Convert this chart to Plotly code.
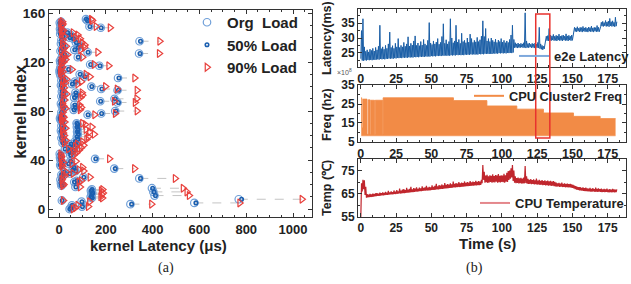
import plotly.graph_objects as go

# ---------------- (a) kernel latency data ----------------
kernel_idx = list(range(156))
org_load = [45, 50, 98, 55, 305, 578, 96, 12, 768, 140,
            135, 408, 138, 142, 403, 136, 140, 397, 70, 10,
            12, 8, 65, 75, 6, 343, 104, 15, 10, 45,
            20, 70, 58, 236, 62, 8, 5, 40, 12, 48,
            6, 154, 4, 6, 48, 3, 55, 42, 60, 25,
            65, 45, 72, 50, 15, 68, 20, 78, 10, 76,
            14, 80, 12, 77, 8, 79, 18, 76, 10, 78,
            75, 14, 9, 6, 4, 12, 8, 122, 180, 10,
            240, 62, 18, 68, 12, 66, 8, 250, 176, 15,
            237, 64, 10, 72, 20, 70, 12, 250, 180, 14,
            138, 8, 55, 16, 68, 10, 20, 252, 108, 6,
            88, 3, 10, 2, 40, 5, 8, 172, 133, 6,
            12, 4, 18, 10, 80, 14, 24, 342, 122, 6,
            65, 12, 80, 20, 85, 8, 72, 344, 10, 60,
            45, 16, 50, 5, 35, 8, 12, 4, 178, 130,
            6, 10, 3, 8, 120, 115]
load50 = [47, 52, 100, 57, 310, 585, 98, 13, 780, 142,
          137, 412, 140, 144, 406, 138, 141, 400, 72, 11,
          13, 9, 66, 77, 7, 348, 106, 16, 11, 46,
          22, 72, 60, 240, 64, 9, 6, 41, 13, 50,
          7, 157, 5, 7, 50, 4, 56, 44, 62, 26,
          67, 47, 74, 52, 16, 70, 21, 80, 11, 78,
          15, 82, 13, 79, 9, 81, 19, 78, 11, 80,
          77, 15, 10, 7, 5, 13, 9, 124, 182, 11,
          243, 64, 19, 70, 13, 68, 9, 254, 178, 16,
          240, 66, 11, 74, 21, 72, 13, 254, 183, 15,
          140, 9, 57, 17, 70, 11, 21, 256, 110, 7,
          90, 4, 11, 3, 41, 6, 9, 175, 135, 7,
          13, 5, 19, 11, 82, 15, 25, 346, 124, 7,
          67, 13, 82, 21, 87, 9, 74, 348, 11, 62,
          46, 17, 52, 6, 36, 9, 13, 5, 180, 132,
          7, 11, 4, 9, 122, 117]
load90 = [60, 70, 125, 80, 395, 772, 130, 18, 1038, 185,
          178, 556, 182, 188, 546, 180, 186, 530, 90, 16,
          20, 14, 85, 95, 12, 496, 132, 25, 18, 60,
          32, 105, 85, 322, 100, 14, 10, 55, 18, 72,
          10, 215, 8, 10, 62, 7, 75, 60, 85, 40,
          95, 70, 105, 78, 22, 100, 30, 118, 16, 125,
          22, 150, 18, 130, 14, 115, 28, 140, 15, 112,
          100, 24, 14, 12, 9, 20, 15, 152, 240, 16,
          333, 90, 28, 95, 20, 88, 14, 325, 236, 24,
          332, 92, 17, 100, 32, 98, 20, 333, 248, 22,
          198, 14, 80, 26, 95, 18, 32, 323, 132, 12,
          115, 7, 16, 5, 55, 9, 14, 212, 150, 11,
          20, 8, 28, 15, 100, 22, 36, 428, 165, 10,
          92, 20, 108, 30, 110, 14, 98, 430, 16, 90,
          70, 24, 80, 10, 60, 14, 18, 8, 218, 158,
          12, 16, 7, 14, 142, 138]

# ---------------- (b) time series data (1 s resolution: band low / high) ----------------
lat_lo = [23.0, 22.4, 22.3, 22.5, 22.4, 22.6, 22.5, 22.6, 22.5, 22.7,
          22.6, 22.7, 22.8, 22.7, 22.9, 22.8, 22.9, 22.8, 23.0, 22.9,
          23.1, 23.0, 23.1, 23.0, 23.2, 23.1, 23.3, 23.2, 23.3, 23.2,
          23.4, 23.3, 23.4, 23.3, 23.5, 23.4, 23.5, 23.4, 23.6, 23.5,
          23.6, 23.5, 23.7, 23.6, 23.7, 23.6, 23.8, 23.7, 23.8, 23.7,
          23.9, 23.8, 23.9, 23.8, 24.0, 23.9, 24.0, 23.9, 24.1, 24.0,
          24.1, 24.0, 24.1, 24.0, 24.2, 24.1, 24.2, 24.1, 24.3, 24.2,
          24.3, 24.2, 24.3, 24.2, 24.4, 24.3, 24.4, 24.3, 24.5, 24.4,
          24.5, 24.4, 24.5, 24.4, 24.6, 24.5, 24.6, 24.5, 24.7, 24.6,
          24.7, 24.6, 24.7, 24.6, 24.8, 24.7, 24.8, 24.7, 24.9, 24.8,
          24.9, 24.8, 24.9, 24.8, 25.0, 24.9, 25.0, 24.9, 25.1, 26.7,
          26.8, 26.6, 26.8, 26.7, 26.9, 26.7, 26.8, 26.6, 26.8, 26.7,
          26.9, 26.7, 26.8, 26.6, 26.8, 26.7, 26.6, 26.4, 26.2, 26.0,
          26.3, 28.9, 29.1, 29.0, 29.2, 29.1, 29.3, 29.1, 29.2, 29.0,
          29.3, 29.1, 29.2, 29.0, 29.3, 29.1, 29.2, 29.0, 29.3, 29.1,
          29.2, 32.0, 32.2, 32.1, 32.3, 32.1, 32.2, 32.0, 32.3, 32.1,
          32.2, 32.0, 32.3, 32.1, 32.2, 32.0, 32.3, 32.1, 32.2, 32.1,
          33.8, 34.0, 33.9, 34.1, 33.9, 34.0, 33.8, 34.1, 33.9, 34.0,
          33.8, 34.0]
lat_hi = [32.5, 36.5, 27, 25.5, 26, 25.3, 26.2, 25.8, 26.5, 25.6,
          26.8, 26, 27.2, 34.3, 26.4, 27, 26.2, 27.5, 26.5, 28,
          32, 26.8, 27.4, 26.5, 28.2, 27, 29.8, 26.8, 27.5, 27,
          28.5, 27.2, 28, 30.4, 27.3, 28.2, 27.6, 29, 30.7, 27.5,
          28.3, 27.4, 28.8, 27.6, 29.5, 28, 27.5, 29.2, 35.2, 28.3,
          27.8, 29, 28, 28.6, 29.8, 27.9, 28.5, 30.5, 34.8, 28.2,
          29.4, 28, 28.8, 36.5, 30, 28.4, 29, 34.3, 28.6, 29.5,
          28.2, 31.6, 28.8, 29.2, 28.4, 30, 28.6, 31.3, 29.8, 28.5,
          29.2, 28.7, 30.2, 28.8, 29.4, 30.6, 35.8, 30.5, 33.2, 29,
          29.8, 28.8, 30, 29.2, 28.7, 29.6, 28.5, 29.3, 28.8, 29.8,
          28.6, 29.2, 28.4, 29, 28.5, 29.5, 31, 34.3, 29.5, 28.4,
          28, 28.3, 27.9, 28.2, 28, 28.4, 38.5, 29, 28.1, 28.3,
          27.9, 28.2, 28, 28.3, 27.9, 28.5, 33.6, 28, 27.5, 27.2,
          27.4, 30.6, 30.8, 33.2, 31, 30.7, 31.2, 30.6, 30.9, 30.7,
          31.3, 30.6, 30.8, 31, 30.6, 31.4, 30.7, 30.9, 30.6, 31,
          30.8, 33.6, 33.4, 33.8, 33.3, 33.6, 33.5, 33.9, 33.4, 33.6,
          33.3, 33.7, 33.5, 34, 33.4, 33.6, 33.5, 34.2, 33.6, 33.8,
          35.3, 35.6, 35.2, 35.9, 35.4, 35.7, 36.6, 35.5, 35.8, 35.3,
          37, 35.5]

temp_lo = [55, 66, 67, 64.5, 63.3, 63.4, 63.5, 63.6, 63.7, 63.8,
           63.9, 64.0, 64.1, 64.1, 64.2, 64.3, 64.3, 64.4, 64.5, 64.5,
           64.6, 64.7, 64.7, 64.8, 64.9, 64.9, 65.0, 65.1, 65.1, 65.2,
           65.3, 65.3, 65.4, 65.5, 65.5, 65.6, 65.7, 65.7, 65.8, 65.9,
           65.9, 66.0, 66.1, 66.1, 66.2, 66.3, 66.3, 66.4, 66.5, 66.5,
           66.6, 66.7, 66.7, 66.8, 66.9, 66.9, 67.0, 67.1, 67.1, 67.2,
           67.3, 67.3, 67.4, 67.5, 67.5, 67.6, 67.7, 67.7, 67.8, 67.9,
           67.9, 68.0, 68.1, 68.1, 68.2, 68.3, 68.3, 68.4, 68.4, 68.5,
           68.5, 68.6, 68.6, 68.7, 68.7, 68.8, 69.5, 71.0, 69.8, 70.0,
           69.7, 69.9, 70.1, 69.8, 70.0, 69.9, 70.2, 69.8, 70.0, 69.9,
           70.1, 70.0, 69.8, 70.2, 70.1, 71.0, 71.5, 72.0, 70.5, 69.8,
           69.6, 69.7, 69.5, 69.6, 69.4, 69.5, 69.5, 69.6, 69.3, 69.2,
           69.3, 69.1, 69.2, 69.0, 69.1, 68.9, 69.0, 68.8, 68.9, 68.7,
           68.8, 68.6, 68.7, 68.5, 68.6, 68.4, 68.5, 68.3, 68.2, 68.1,
           68.2, 68.0, 68.1, 67.9, 68.0, 67.8, 67.9, 67.7, 67.8, 67.6,
           67.5, 67.3, 67.0, 66.8, 66.7, 66.5, 66.4, 66.3, 66.2, 66.1,
           66.1, 66.0, 66.0, 65.9, 65.9, 66.0, 65.8, 65.9, 65.8, 65.9,
           65.8, 65.7, 65.8, 65.7, 65.8, 65.7, 65.6, 65.7, 65.6, 65.7,
           65.6, 65.7]
temp_hi = [69.5, 71, 70.8, 68, 64.8, 64.6, 64.9, 64.7, 65.0, 64.9,
           65.2, 65.3, 65.0, 65.5, 65.2, 65.6, 65.3, 65.8, 65.4, 66.2,
           65.6, 66.0, 65.7, 66.4, 65.9, 66.6, 66.0, 67.2, 66.3, 66.8,
           67.0, 66.6, 67.5, 66.8, 67.1, 68.0, 66.9, 67.4, 67.2, 67.8,
           67.1, 67.6, 67.3, 68.2, 67.5, 67.8, 68.4, 67.6, 68.0, 67.7,
           68.6, 68.0, 68.4, 69.3, 68.2, 68.7, 68.5, 69.0, 68.6, 69.6,
           68.8, 69.2, 68.9, 69.5, 69.1, 70.2, 69.3, 69.6, 69.4, 70.0,
           69.5, 69.8, 69.6, 70.3, 69.7, 70.0, 69.8, 70.5, 69.9, 70.2,
           70.0, 70.6, 70.1, 70.4, 70.2, 71.0, 77.4, 74.5, 72.8, 73.2,
           72.5, 73.0, 72.7, 73.4, 72.6, 73.1, 72.9, 73.5, 72.7, 73.0,
           72.8, 73.6, 73.0, 74.0, 74.8, 75.0, 76.0, 77.4, 75.0, 72.5,
           71.8, 72.0, 71.6, 71.9, 71.5, 72.0, 77.0, 72.5, 71.4, 71.0,
           71.3, 70.9, 71.2, 70.8, 71.5, 70.7, 71.0, 70.6, 70.9, 70.5,
           70.8, 70.4, 70.7, 70.3, 70.6, 70.2, 70.5, 70.1, 69.8, 69.5,
           69.7, 69.4, 69.8, 69.3, 69.5, 69.2, 69.4, 69.1, 69.3, 69.0,
           68.8, 68.5, 68.3, 68.0, 67.8, 67.9, 67.5, 67.7, 67.4, 67.6,
           67.3, 67.2, 67.5, 67.1, 67.4, 67.0, 67.6, 67.1, 67.3, 67.0,
           67.2, 66.9, 67.1, 66.9, 67.2, 66.8, 67.0, 66.8, 67.1, 66.9,
           66.8, 66.9]

# CPU cluster2 frequency (x1e8 Hz): step envelope of a dense oscillation, floor value
freq_t = [0.3, 0.7, 1.4, 4.4, 5.2, 6.6, 7.1, 9.7, 10.2, 15.4, 15.8,
          65.7, 89.4, 110.6, 129.5, 150.8, 169.7, 180.6]
freq_top = [28.3, 12.5, 27.6, 9, 27.2, 9, 27.0, 9, 27.0, 9, 28.3,
            26.8, 24.0, 22.3, 20.3, 18.5, 17.3, 17.3]
freq_floor = 8.2

highlight_t = [124, 134]

# ---------------- figure ----------------
W, H = 631, 284
BLUE_LIGHT = '#6f9fd8'
BLUE_DARK = '#1b5fb0'
RED = '#e8403c'
FONT = 'Liberation Sans'
TXT = '#222222'

fig = go.Figure()

# connectors
cx, cy = [], []
for i, a, b in zip(kernel_idx, org_load, load90):
    cx += [a, b, None]
    cy += [i, i, None]
fig.add_trace(go.Scatter(x=cx, y=cy, mode='lines', line=dict(color='#c4c4c4', width=1, dash='dash'),
                         showlegend=False, hoverinfo='skip', xaxis='x', yaxis='y'))
fig.add_trace(go.Scatter(x=org_load, y=kernel_idx, mode='markers', name='Org  Load',
                         marker=dict(symbol='circle-open', size=7.5, color=BLUE_LIGHT, line=dict(width=1.2)),
                         xaxis='x', yaxis='y', legend='legend'))
fig.add_trace(go.Scatter(x=load50, y=kernel_idx, mode='markers', name='50% Load',
                         marker=dict(symbol='circle-open', size=3.5, color=BLUE_DARK, line=dict(width=1.6)),
                         xaxis='x', yaxis='y', legend='legend'))
fig.add_trace(go.Scatter(x=load90, y=kernel_idx, mode='markers', name='90% Load',
                         marker=dict(symbol='triangle-right-open', size=7, color=RED, line=dict(width=1.2)),
                         xaxis='x', yaxis='y', legend='legend'))

def zigzag(lo, hi):
    xs, ys = [], []
    for t, a, b in zip(range(len(lo)), lo, hi):
        xs += [t, t + 0.5]
        ys += [a, b]
    return xs, ys

lx, ly = zigzag(lat_lo, lat_hi)
fig.add_trace(go.Scatter(x=lx, y=ly, mode='lines', line=dict(color='#1a5ea6', width=1),
                         showlegend=False, xaxis='x2', yaxis='y2'))
fig.add_trace(go.Scatter(x=[None], y=[None], mode='lines', name='e2e Latency',
                         line=dict(color='#7ea8dc', width=2), xaxis='x2', yaxis='y2', legend='legend2'))

ORANGE = '#f28b46'
fig.add_trace(go.Scatter(x=[freq_t[0], freq_t[-1]], y=[freq_floor, freq_floor], mode='lines',
                         line=dict(color=ORANGE, width=0.5), showlegend=False, xaxis='x3', yaxis='y3'))
fig.add_trace(go.Scatter(x=freq_t, y=freq_top, mode='lines', line=dict(color=ORANGE, width=0.8, shape='hv'),
                         fill='tonexty', fillcolor=ORANGE, showlegend=False, xaxis='x3', yaxis='y3'))
fig.add_trace(go.Scatter(x=[None], y=[None], mode='lines', name='CPU Cluster2 Freq',
                         line=dict(color=ORANGE, width=2), xaxis='x3', yaxis='y3', legend='legend3'))

tx, ty = zigzag(temp_lo, temp_hi)
fig.add_trace(go.Scatter(x=tx, y=ty, mode='lines', line=dict(color='#c0262d', width=1.2),
                         showlegend=False, xaxis='x4', yaxis='y4'))
fig.add_trace(go.Scatter(x=[None], y=[None], mode='lines', name='CPU Temperature',
                         line=dict(color='#e4878c', width=2), xaxis='x4', yaxis='y4', legend='legend4'))


def axis(domain, rng, tickvals=None, dtick=None, minor_dtick=None, fsize=12, anchor=None):
    d = dict(domain=domain, range=rng, showline=True, linecolor='#333', linewidth=1, mirror='ticks',
             ticks='inside', ticklen=4, tickwidth=1, tickcolor='#333', showgrid=False, zeroline=False,
             automargin=False,
             tickfont=dict(family=FONT, size=fsize, color=TXT, weight='bold'), anchor=anchor)
    if tickvals is not None:
        d['tickmode'] = 'array'
        d['tickvals'] = tickvals
    if dtick is not None:
        d['dtick'] = dtick
        d['tick0'] = 0
    if minor_dtick is not None:
        d['minor'] = dict(ticks='inside', ticklen=2, dtick=minor_dtick, tickcolor='#333', showgrid=False)
    return d

def px_x(p):
    return p / W

def px_y(p):
    return 1 - p / H

xd_a = [px_x(49), px_x(312)]
yd_a = [px_y(217), px_y(10)]
xd_b = [px_x(358), px_x(626)]

def leg(x, y, size):
    return dict(x=px_x(x), y=px_y(y), xanchor='left', yanchor='middle', bgcolor='rgba(0,0,0,0)',
                traceorder='normal', font=dict(family=FONT, size=size, color=TXT, weight='bold'),
                itemwidth=30, tracegroupgap=0)

layout = dict(
    width=W, height=H, autosize=False, margin=dict(l=0, r=0, t=0, b=0, pad=0, autoexpand=False),
    paper_bgcolor='white', plot_bgcolor='white',
    font=dict(family=FONT, color=TXT),
    xaxis=axis(xd_a, [-43, 1081], dtick=200, minor_dtick=50, fsize=13, anchor='y'),
    yaxis=axis(yd_a, [-6.5, 162.5], dtick=40, minor_dtick=10, fsize=13.5, anchor='x'),
    xaxis2=axis(xd_b, [-2, 188], dtick=25, minor_dtick=25 / 3, fsize=12.5, anchor='y2'),
    yaxis2=axis([px_y(67), px_y(9)], [20.2, 39.8], tickvals=[25, 30, 35], minor_dtick=2.5, anchor='x2'),
    xaxis3=axis(xd_b, [-2, 188], dtick=25, minor_dtick=25 / 3, fsize=12.5, anchor='y3'),
    yaxis3=axis([px_y(142), px_y(85)], [4.95, 35.05], tickvals=[5, 15, 25, 35], minor_dtick=5, anchor='x3'),
    xaxis4=axis(xd_b, [-2, 188], dtick=25, minor_dtick=25 / 3, fsize=12, anchor='y4'),
    yaxis4=axis([px_y(217), px_y(159)], [54.95, 80], tickvals=[55, 65, 75], minor_dtick=5, anchor='x4'),
    legend=leg(187, 45, 15),
    legend2=leg(514, 56, 13),
    legend3=leg(469, 96, 12.8),
    legend4=leg(475, 203, 13),
)
fig.update_layout(**layout)

def ann(text, x, y, size, angle=0, bold=True, family=FONT, color=TXT):
    fig.add_annotation(text=text, x=px_x(x), y=px_y(y), xref='paper', yref='paper', showarrow=False,
                       textangle=angle, xanchor='center', yanchor='middle',
                       font=dict(family=family, size=size, color=color, weight='bold' if bold else 'normal'))

ann('kernel Index', 20.5, 112, 16, angle=-90)
ann('kernel Latency (μs)', 158, 245, 15)
ann('Latency(ms)', 327, 38, 12.5, angle=-90)
ann('Freq (hz)', 327, 115, 12.5, angle=-90)
ann('Temp (℃)', 327, 188, 12.5, angle=-90)
ann('Time (s)', 487, 243, 15)
ann('×10<sup>8</sup>', 344, 72.5, 7, bold=False, color='#555')
ann('(a)', 166, 268, 14, bold=False, family='Liberation Serif')
ann('(b)', 474, 268, 14, bold=False, family='Liberation Serif')

fig.add_shape(type='rect', xref='x2', yref='paper', x0=highlight_t[0], x1=highlight_t[1],
              y0=px_y(138), y1=px_y(14), line=dict(color='#e8322e', width=1.5), layer='above')

fig.write_html('out.html', config={'displayModeBar': False},
               post_script="document.body.style.margin='0';document.body.style.overflow='hidden';")
